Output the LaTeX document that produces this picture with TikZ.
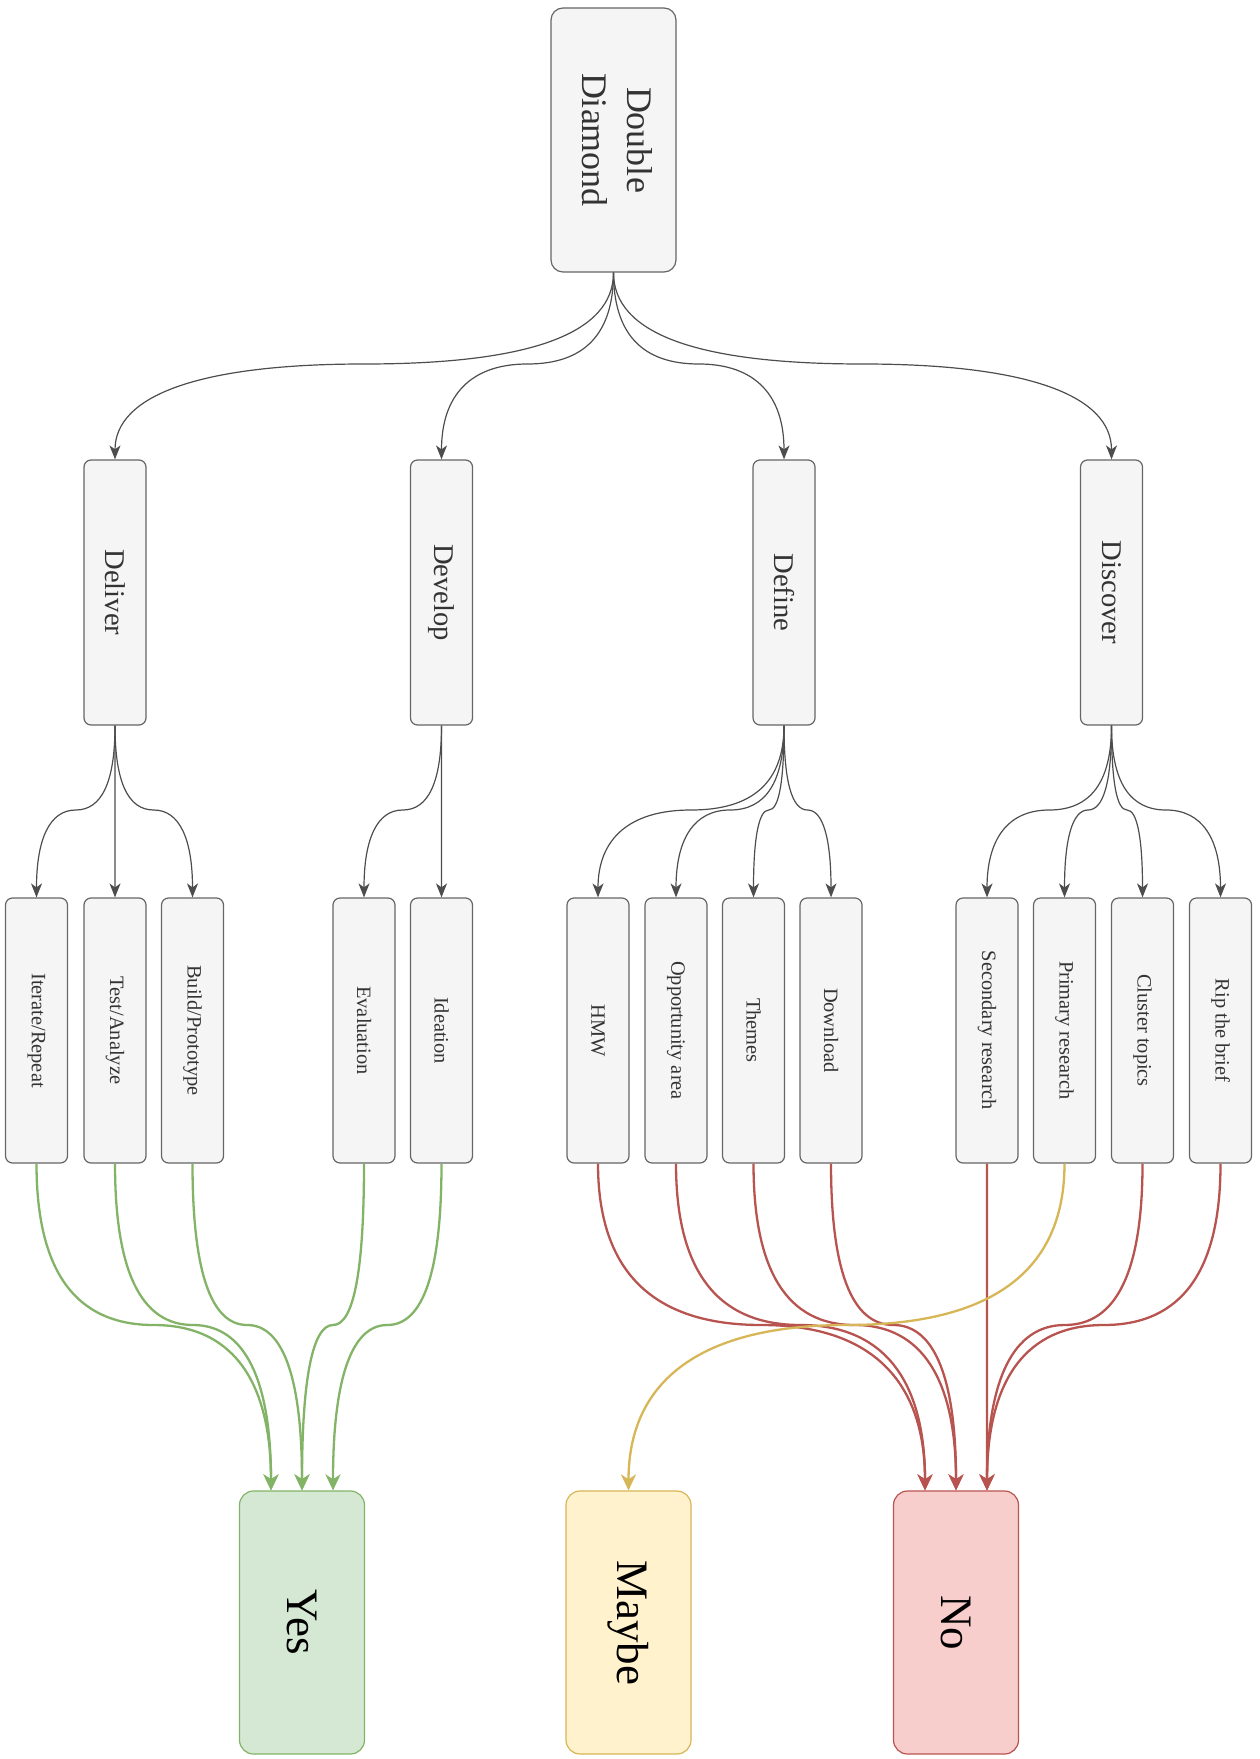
\documentclass[tikz,border=0pt]{standalone}
\usepackage{graphicx}
\usepackage{fontspec}
\setmainfont{Liberation Serif}
\usetikzlibrary{arrows.meta,calc}
\definecolor{boxfill}{HTML}{F5F5F5}
\definecolor{boxline}{HTML}{666666}
\definecolor{txt}{HTML}{333333}
\definecolor{edgegray}{HTML}{4D4D4D}
\definecolor{gfill}{HTML}{D5E8D4}
\definecolor{gline}{HTML}{82B366}
\definecolor{yfill}{HTML}{FFF2CC}
\definecolor{yline}{HTML}{D6B656}
\definecolor{rfill}{HTML}{F8CECC}
\definecolor{rline}{HTML}{B85450}
\newcommand\vtext[1]{\rotatebox{-90}{#1}}
\newcommand\dioedge[4]{\draw[#1] (#2) .. controls ($(#2)!0.6667!(#2 |- #4)$) and ($(#2 |- #4)!0.1667!(#3 |- #4)$) .. ($(#2 |- #4)!0.5!(#3 |- #4)$) .. controls ($(#2 |- #4)!0.8333!(#3 |- #4)$) and ($(#3)!0.6667!(#3 |- #4)$) .. (#3);}
\tikzset{
  basebox/.style={draw=boxline, fill=boxfill, text=txt, line width=0.6pt, inner sep=0pt},
  topbox/.style={basebox, rounded corners=6pt, minimum width=62.5pt, minimum height=132pt, font=\fontsize{18}{22.5}\selectfont},
  phasebox/.style={basebox, rounded corners=3.5pt, minimum width=31pt, minimum height=132.5pt, font=\fontsize{14.3}{17}\selectfont},
  stepbox/.style={basebox, rounded corners=3.5pt, minimum width=31pt, minimum height=132.5pt, font=\fontsize{10.2}{12}\selectfont},
  outbox/.style={line width=0.6pt, inner sep=0pt, rounded corners=7pt, minimum width=62.5pt, minimum height=131.5pt, text=black, font=\fontsize{22.5}{27}\selectfont},
  yesbox/.style={outbox, draw=gline, fill=gfill},
  maybebox/.style={outbox, draw=yline, fill=yfill},
  nobox/.style={outbox, draw=rline, fill=rfill},
  grayedge/.style={draw=edgegray, line width=0.6pt, -{Stealth[length=7pt,width=5.5pt,inset=2pt]}},
  coledge/.style={line width=1.15pt, -{Stealth[length=8pt,width=7.5pt,inset=2.4pt]}},
  greenedge/.style={coledge, draw=gline, fill=none},
  rededge/.style={coledge, draw=rline},
  yellowedge/.style={coledge, draw=yline},
}
\begin{document}
\begin{tikzpicture}[x=0.5pt, y=-0.5pt]
\useasboundingbox (0,0) rectangle (1259,1759);
% top
\node[topbox] (dd) at (613.5,140) {\vtext{\begin{tabular}{@{}c@{}}Double\\Diamond\end{tabular}}};
% phases
\node[phasebox] (deliver) at (115,592.5) {\vtext{Deliver}};
\node[phasebox] (develop) at (441.5,592.5) {\vtext{Develop}};
\node[phasebox] (define) at (784,592.5) {\vtext{Define}};
\node[phasebox] (discover) at (1111.5,592.5) {\vtext{Discover}};
% steps
\node[stepbox] (iterate) at (36.5,1030.5) {\vtext{Iterate/Repeat}};
\node[stepbox] (test) at (115,1030.5) {\vtext{Test/Analyze}};
\node[stepbox] (build) at (192.5,1030.5) {\vtext{Build/Prototype}};
\node[stepbox] (evaluation) at (364,1030.5) {\vtext{Evaluation}};
\node[stepbox] (ideation) at (441.5,1030.5) {\vtext{Ideation}};
\node[stepbox] (hmw) at (598,1030.5) {\vtext{HMW}};
\node[stepbox] (opp) at (676,1030.5) {\vtext{Opportunity area}};
\node[stepbox] (themes) at (753.5,1030.5) {\vtext{Themes}};
\node[stepbox] (download) at (831,1030.5) {\vtext{Download}};
\node[stepbox] (secondary) at (987,1030.5) {\vtext{Secondary research}};
\node[stepbox] (primary) at (1064.5,1030.5) {\vtext{Primary research}};
\node[stepbox] (cluster) at (1142.5,1030.5) {\vtext{Cluster topics}};
\node[stepbox] (rip) at (1220.5,1030.5) {\vtext{Rip the brief}};
% outcomes
\node[yesbox] (yes) at (302,1622.5) {\vtext{Yes}};
\node[maybebox] (maybe) at (628.5,1622.5) {\vtext{Maybe}};
\node[nobox] (no) at (956,1622.5) {\vtext{No}};
% levels of the horizontal parts
\coordinate (h1) at (0,364);
\coordinate (h2) at (0,810);
\coordinate (h3) at (0,1325);
% arrow target points
\coordinate (y1) at ($(yes.north)+(-31,0)$);
\coordinate (y2) at (yes.north);
\coordinate (y3) at ($(yes.north)+(31,0)$);
\coordinate (n1) at ($(no.north)+(-31,0)$);
\coordinate (n2) at (no.north);
\coordinate (n3) at ($(no.north)+(31,0)$);
% top edges
\dioedge{grayedge}{dd.south}{deliver.north}{h1}
\dioedge{grayedge}{dd.south}{develop.north}{h1}
\dioedge{grayedge}{dd.south}{define.north}{h1}
\dioedge{grayedge}{dd.south}{discover.north}{h1}
% phase edges
\dioedge{grayedge}{deliver.south}{iterate.north}{h2}
\dioedge{grayedge}{deliver.south}{test.north}{h2}
\dioedge{grayedge}{deliver.south}{build.north}{h2}
\dioedge{grayedge}{develop.south}{evaluation.north}{h2}
\dioedge{grayedge}{develop.south}{ideation.north}{h2}
\dioedge{grayedge}{define.south}{hmw.north}{h2}
\dioedge{grayedge}{define.south}{opp.north}{h2}
\dioedge{grayedge}{define.south}{themes.north}{h2}
\dioedge{grayedge}{define.south}{download.north}{h2}
\dioedge{grayedge}{discover.south}{secondary.north}{h2}
\dioedge{grayedge}{discover.south}{primary.north}{h2}
\dioedge{grayedge}{discover.south}{cluster.north}{h2}
\dioedge{grayedge}{discover.south}{rip.north}{h2}
% green
\dioedge{greenedge}{iterate.south}{y1}{h3}
\dioedge{greenedge}{test.south}{y1}{h3}
\dioedge{greenedge}{build.south}{y2}{h3}
\dioedge{greenedge}{evaluation.south}{y2}{h3}
\dioedge{greenedge}{ideation.south}{y3}{h3}
% red
\dioedge{rededge}{hmw.south}{n1}{h3}
\dioedge{rededge}{opp.south}{n1}{h3}
\dioedge{rededge}{themes.south}{n2}{h3}
\dioedge{rededge}{download.south}{n2}{h3}
\dioedge{rededge}{secondary.south}{n3}{h3}
\dioedge{rededge}{cluster.south}{n3}{h3}
\dioedge{rededge}{rip.south}{n3}{h3}
% yellow
\dioedge{yellowedge}{primary.south}{maybe.north}{h3}
\end{tikzpicture}
\end{document}
